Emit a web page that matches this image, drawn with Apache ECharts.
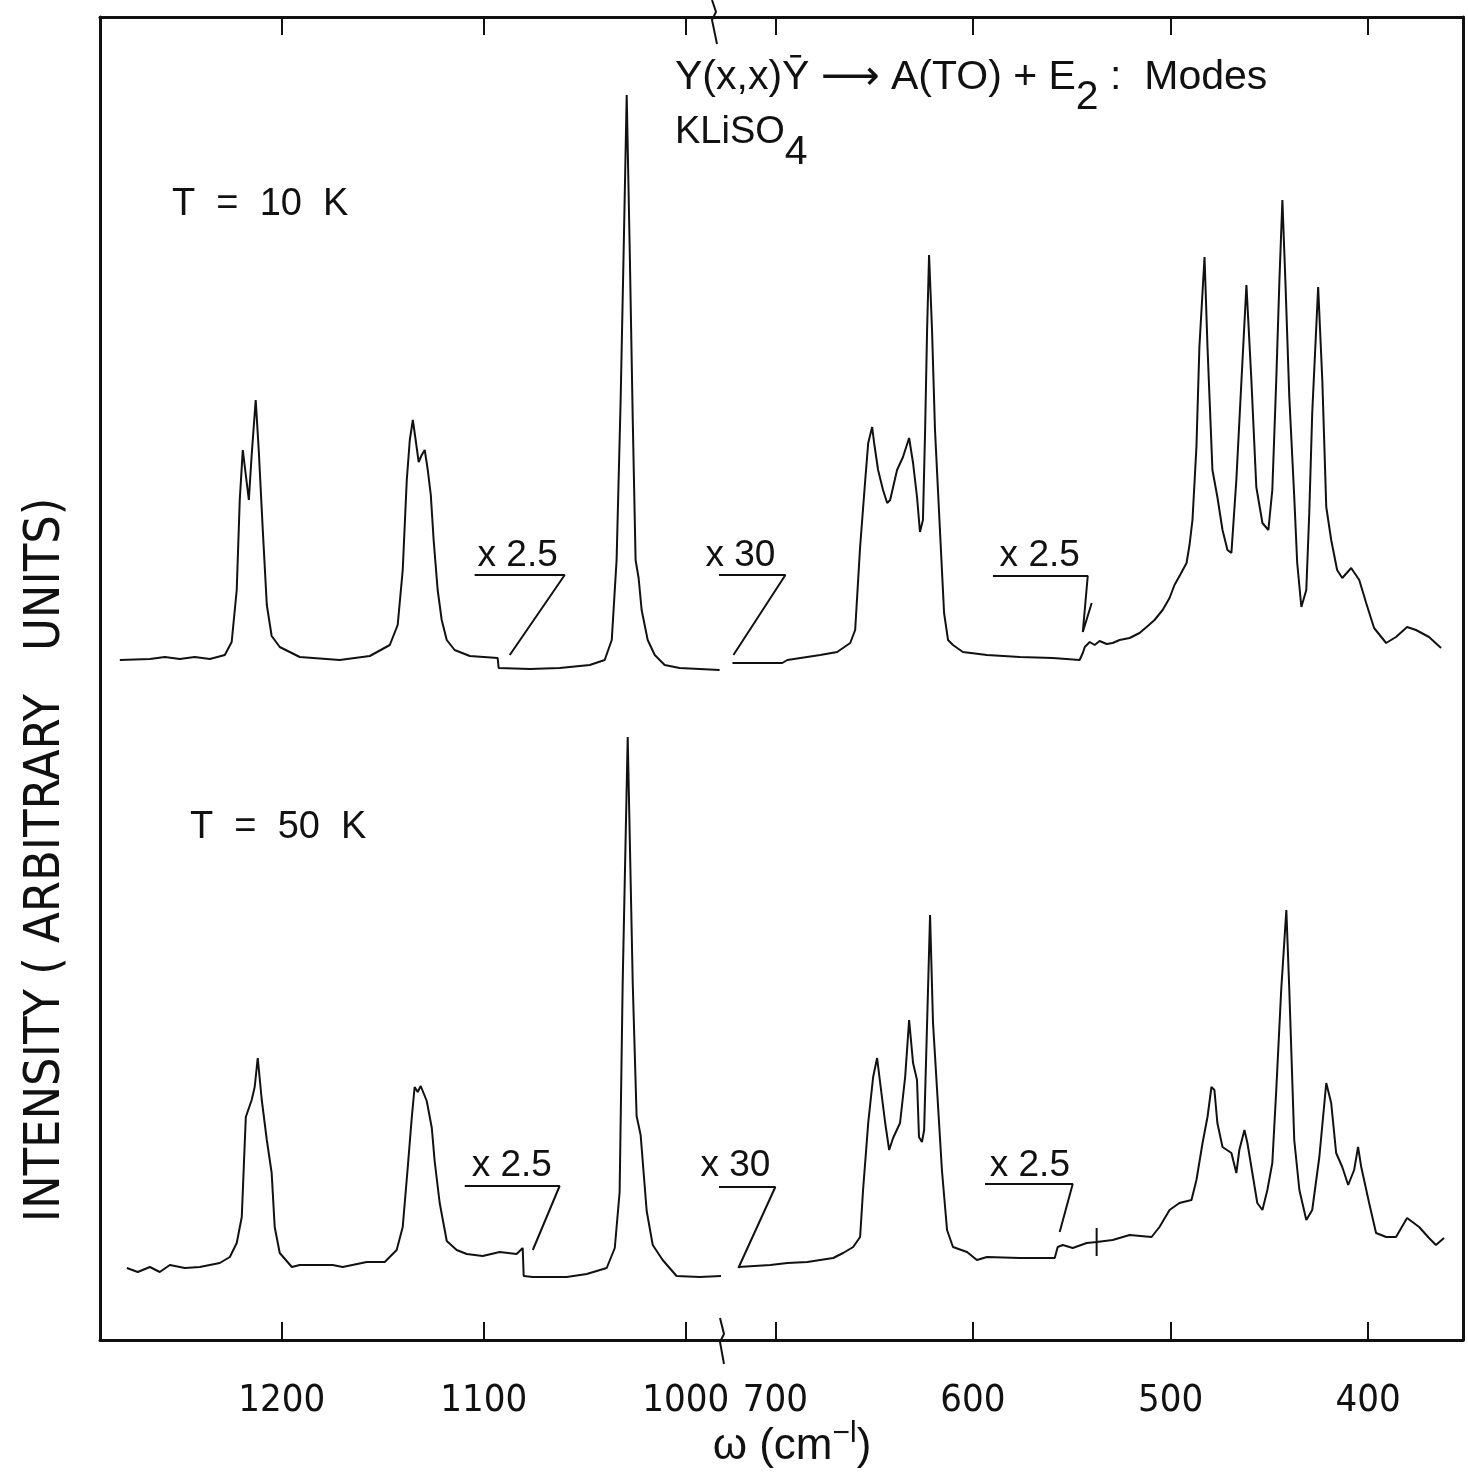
<!DOCTYPE html>
<html>
<head>
<meta charset="utf-8">
<script src="https://cdn.jsdelivr.net/npm/echarts@6/dist/echarts.min.js"></script>
<style>
html,body{margin:0;padding:0;background:#fff;}
#raman{width:1468px;height:1475px;}
</style>
</head>
<body>
<div id="raman"></div>
<script>
// T = 10 K spectrum, [omega (cm-1), intensity]  -- left part 1290..983
var t10_left = [
  [1280.2,68.0],[1265.3,68.1],[1257.9,68.3],[1250.5,68.1],[1243.1,68.3],[1235.6,68.1],[1228.2,68.5],
  [1224.8,69.8],[1222.3,75.0],[1220.8,84.0],[1219.3,89.0],[1217.8,86.5],[1216.3,84.0],[1214.9,88.5],
  [1212.9,94.0],[1211.4,89.0],[1209.4,81.0],[1207.4,73.5],[1205.0,70.4],[1201.0,69.3],[1191.1,68.3],
  [1171.3,68.0],[1156.4,68.4],[1146.5,69.5],[1142.6,71.5],[1140.1,77.0],[1138.1,86.0],[1136.6,90.0],
  [1135.1,92.0],[1133.7,90.0],[1132.2,87.8],[1130.7,88.5],[1129.2,89.0],[1127.7,87.0],[1126.2,84.5],
  [1124.8,80.0],[1122.8,75.0],[1120.8,72.0],[1118.3,70.0],[1114.4,69.0],[1106.9,68.4],[1093.1,68.2],
  [1092.6,67.2],[1077.2,67.1],[1062.4,67.2],[1047.5,67.5],[1040.1,68.0],[1036.6,70.0],[1034.2,78.0],
  [1032.2,94.0],[1030.7,109.0],[1029.2,124.5],[1027.7,109.0],[1026.2,92.0],[1024.8,78.0],[1023.3,76.2],
  [1021.8,73.0],[1018.8,70.0],[1015.3,68.5],[1010.4,67.5],[1003.0,67.2],[983.2,67.0]
];
// T = 10 K, right part 728..352
var t10_right = [
  [721.7,67.7],[696.5,67.7],[693.9,68.0],[677.3,68.5],[668.7,68.8],[662.1,69.7],[659.6,71.0],[657.1,79.3],
  [654.5,86.0],[653.0,89.7],[651.0,91.3],[650.0,89.7],[648.0,87.0],[645.5,85.0],[643.4,83.7],[641.9,84.0],
  [638.4,87.0],[635.4,88.3],[632.3,90.2],[630.3,87.7],[628.3,84.3],[626.8,80.8],[625.3,82.0],[624.2,91.0],
  [623.2,101.0],[622.2,108.5],[620.7,101.0],[619.2,91.0],[616.7,81.0],[614.6,72.7],[612.6,70.0],[610.1,69.5],
  [605.1,68.8],[592.9,68.5],[576.3,68.3],[559.6,68.2],[546.0,68.0],[544.4,68.7],[543.4,69.3],[540.9,69.8],
  [538.4,69.5],[535.9,69.9],[532.3,69.6],[529.3,69.7],[525.8,70.0],[520.7,70.2],[515.7,70.7],[512.1,71.3],
  [508.1,72.0],[504.0,73.0],[500.5,74.2],[498.0,75.5],[494.9,76.6],[491.9,77.7],[490.4,79.5],[488.9,82.0],
  [486.9,89.3],[485.4,99.3],[482.8,108.3],[481.3,99.3],[478.8,87.0],[476.3,84.3],[473.7,81.0],[471.2,79.0],
  [469.2,78.7],[466.7,86.0],[464.1,96.0],[461.6,105.5],[459.1,96.0],[456.6,85.3],[453.5,81.7],[450.5,81.0],
  [448.5,85.0],[446.5,96.0],[444.9,106.0],[443.4,114.0],[441.9,106.0],[439.9,94.3],[437.4,84.3],[435.9,77.7],
  [433.8,73.3],[431.3,75.0],[429.8,82.7],[428.3,92.7],[425.3,105.3],[423.2,96.0],[421.2,83.3],[418.7,80.0],
  [415.7,77.0],[413.1,76.2],[408.6,77.2],[404.5,76.0],[401.0,73.7],[397.0,71.2],[390.9,69.7],[385.9,70.3],
  [380.3,71.3],[375.8,71.0],[369.2,70.3],[363.1,69.2]
];
// T = 50 K, left part
var t50_left = [
  [1276.7,7.2],[1271.3,6.8],[1265.3,7.3],[1260.4,6.8],[1255.4,7.5],[1248.0,7.2],[1240.6,7.3],[1230.7,7.7],
  [1225.7,8.3],[1222.3,9.7],[1219.8,12.3],[1218.8,17.3],[1217.8,22.3],[1214.9,24.0],[1213.4,25.3],[1211.9,28.2],
  [1209.9,24.0],[1207.4,20.0],[1205.0,16.7],[1203.5,11.3],[1201.0,8.7],[1195.0,7.3],[1191.1,7.5],[1174.8,7.5],
  [1169.8,7.3],[1157.9,7.8],[1149.0,7.8],[1143.1,9.0],[1140.1,11.3],[1137.6,17.3],[1135.6,22.3],[1134.2,25.3],
  [1132.7,24.8],[1131.2,25.4],[1128.2,23.9],[1125.7,21.2],[1124.3,17.9],[1121.8,13.7],[1118.3,9.9],[1113.4,9.0],
  [1108.4,8.6],[1100.5,8.4],[1092.1,8.8],[1083.7,8.6],[1080.7,9.2],[1080.2,6.4],[1075.7,6.3],[1058.9,6.3],
  [1049.0,6.6],[1039.1,7.2],[1035.1,9.2],[1032.7,14.8],[1031.2,35.6],[1028.7,60.3],[1026.2,35.6],[1024.3,22.4],
  [1022.3,20.5],[1019.3,12.9],[1016.3,9.5],[1011.4,8.0],[1004.5,6.4],[993.1,6.3],[981.7,6.4]
];
// T = 50 K, right part
var t50_right = [
  [718.7,7.3],[702.5,7.5],[693.9,7.7],[683.8,7.8],[677.3,8.0],[670.7,8.2],[665.7,8.7],[660.6,9.3],[657.1,10.3],
  [655.6,15.0],[653.0,21.7],[650.5,26.3],[648.5,28.2],[646.5,25.0],[644.4,21.7],[642.4,19.0],[640.4,20.2],
  [636.9,21.7],[634.3,26.3],[632.3,32.0],[630.3,27.7],[628.3,26.0],[627.3,20.3],[625.8,19.8],[624.7,21.0],
  [623.2,31.7],[621.7,42.5],[620.2,31.7],[615.7,17.0],[613.1,11.0],[610.1,9.3],[603.0,8.8],[598.0,8.0],
  [592.9,8.3],[576.3,8.2],[558.6,8.2],[557.1,9.3],[554.5,9.5],[549.5,9.2],[542.4,9.7],[537.4,9.8],[529.3,10.0],
  [520.7,10.5],[509.6,10.3],[505.6,11.3],[500.5,13.0],[495.5,13.7],[489.4,14.0],[486.9,16.0],[483.8,19.7],
  [481.3,22.3],[479.3,25.3],[477.8,25.0],[476.3,21.7],[473.7,19.3],[469.2,18.7],[466.7,16.7],[465.2,19.0],
  [462.6,21.0],[461.1,19.7],[458.6,16.7],[456.1,13.7],[453.5,13.0],[451.0,15.0],[448.5,17.7],[446.5,25.0],
  [444.0,35.0],[441.4,43.0],[439.9,35.0],[437.4,20.0],[434.8,15.0],[431.3,12.0],[428.3,13.0],[424.7,18.3],
  [421.2,25.7],[418.7,23.7],[416.2,18.7],[413.1,17.3],[410.1,15.5],[407.1,17.0],[405.1,19.3],[403.5,17.3],
  [399.5,13.7],[396.0,10.7],[390.9,10.3],[385.9,10.3],[380.3,12.2],[374.2,11.3],[369.2,10.2],[365.7,9.5],[361.6,10.2]
];

// gain change markers (bar + slanted pointer)
var gainLeft = [
  [[1104.5,76.5],[1059.9,76.5],[1087.1,68.5]],
  [[1109.4,15.4],[1062.4,15.4],[1075.7,9.0]]
];
var gainRight = [
  [[740.4,76.5],[694.9,76.5],[721.2,68.5]],
  [[589.9,76.4],[541.9,76.4],[544.4,70.8],[539.9,73.7]],
  [[742.9,15.3],[700.0,15.3],[718.7,7.2]],
  [[593.9,15.6],[549.5,15.6],[556.1,10.8]],
  [[537.4,8.4],[537.4,11.2]]
];
var gainTextLeft = [[1083.2,78.4,'x 2.5'],[1086.1,17.4,'x 2.5']];
var gainTextRight = [[717.7,78.4,'x 30'],[566.2,78.4,'x 2.5'],[720.2,17.4,'x 30'],[571.2,17.4,'x 2.5']];

var ticksLeft = [1000, 1100, 1200];
var ticksRight = [400, 500, 600, 700];

var lowRange = [983, 1290];
var highRange = [352, 728];
var intRange = [0, 132.3];

var ink = '#111';
var narrow = "'Liberation Sans Narrow','DejaVu Sans Condensed',sans-serif";
var plain = "'Liberation Sans','DejaVu Sans',sans-serif";

function xAx(grid, pos, range, ticks, labels) {
    return {
        type: 'value', gridIndex: grid, position: pos, inverse: true,
        min: range[0], max: range[1],
        axisLine: {show: true, onZero: false, lineStyle: {color: ink, width: 3}},
        axisTick: {show: true, inside: true, length: 18, customValues: ticks, lineStyle: {color: ink, width: 2}},
        axisLabel: {show: labels, customValues: ticks, margin: 42, fontSize: 38, fontFamily: narrow, color: ink,
            formatter: function (v) { return String(v); }},
        splitLine: {show: false}
    };
}
function yAx(grid, pos) {
    return {
        type: 'value', gridIndex: grid, position: pos, min: intRange[0], max: intRange[1],
        axisLine: {show: true, lineStyle: {color: ink, width: 3}},
        axisTick: {show: false}, axisLabel: {show: false}, splitLine: {show: false}
    };
}
function trace(data, xi, yi) {
    return {type: 'line', xAxisIndex: xi, yAxisIndex: yi, data: data, showSymbol: false,
        lineStyle: {color: ink, width: 2}, clip: false, silent: true};
}
function marks(list, xi, yi) {
    return list.map(function (pts) {
        return {type: 'line', xAxisIndex: xi, yAxisIndex: yi, data: pts, showSymbol: false,
            lineStyle: {color: ink, width: 2}, clip: false, silent: true};
    });
}
function words(list, xi, yi) {
    return {
        type: 'scatter', xAxisIndex: xi, yAxisIndex: yi, symbolSize: 0, clip: false, silent: true,
        itemStyle: {opacity: 1, color: ink},
        data: list.map(function (d) { return [d[0], d[1], d[2]]; }),
        label: {show: true, position: 'inside', fontSize: 37, fontFamily: plain, color: ink, opacity: 1,
            formatter: function (p) { return p.value[2]; }}
    };
}

var raman = {
    animation: false,
    backgroundColor: '#fff',
    grid: [
        {left: 100, top: 17, width: 620, height: 1323},
        {left: 720, top: 17, width: 743, height: 1323}
    ],
    xAxis: [
        xAx(0, 'bottom', lowRange, ticksLeft, true),
        xAx(0, 'top', lowRange, ticksLeft, false),
        xAx(1, 'bottom', highRange, ticksRight, true),
        xAx(1, 'top', highRange, ticksRight, false)
    ],
    yAxis: [yAx(0, 'left'), yAx(1, 'right')],
    series: [
        trace(t10_left, 0, 0),
        trace(t10_right, 2, 1),
        trace(t50_left, 0, 0),
        trace(t50_right, 2, 1),
        words(gainTextLeft, 0, 0),
        words(gainTextRight, 2, 1)
    ].concat(marks(gainLeft, 0, 0)).concat(marks(gainRight, 2, 1)),
    graphic: [
        // axis break marks
        {type: 'polyline', shape: {points: [[712, 0], [716, 12], [712, 20], [717, 44]]}, style: {stroke: ink, lineWidth: 2, fill: null}},
        {type: 'polyline', shape: {points: [[720, 1318], [724, 1334], [720, 1342], [724, 1364]]}, style: {stroke: ink, lineWidth: 2, fill: null}},
        {type: 'text', left: 675, top: 57, style: {
            text: 'Y(x,x)\u0232 \u27F6 A(TO) + E{s|2} :  Modes', fontSize: 41, fontFamily: plain, fill: ink,
            rich: {s: {fontSize: 41, fontFamily: plain, fill: ink, padding: [40, 0, 0, 0]}}}},
        {type: 'text', left: 675, top: 114, style: {
            text: 'KLiSO{s|4}', fontSize: 38, fontFamily: plain, fill: ink,
            rich: {s: {fontSize: 41, fontFamily: plain, fill: ink, padding: [40, 0, 0, 0]}}}},
        {type: 'text', left: 172, top: 186, style: {text: 'T  =  10  K', fontSize: 38, fontFamily: plain, fill: ink}},
        {type: 'text', left: 190, top: 809, style: {text: 'T  =  50  K', fontSize: 38, fontFamily: plain, fill: ink}},
        {type: 'text', x: 46, y: 860, rotation: Math.PI / 2, style: {
            text: 'INTENSITY ( ARBITRARY   UNITS)', fontSize: 50, fontFamily: narrow, fill: ink,
            align: 'center', verticalAlign: 'middle'}},
        {type: 'text', x: 792, y: 1447, style: {
            text: '\u03C9 (cm{p|\u2212l})', fontSize: 44, fontFamily: plain, fill: ink,
            align: 'center', verticalAlign: 'middle',
            rich: {p: {fontSize: 30, fontFamily: plain, fill: ink, padding: [0, 0, 26, 0]}}}}
    ]
};

var chart_raman = echarts.init(document.getElementById('raman'));
chart_raman.setOption(raman);
</script>
</body>
</html>
